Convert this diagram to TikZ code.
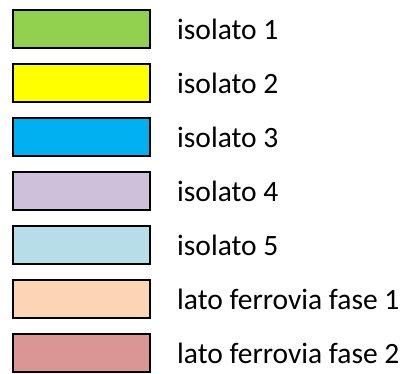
\documentclass[tikz,border=0pt]{standalone}
\usepackage{fontspec}
\setmainfont{Carlito}
\usetikzlibrary{positioning}
\definecolor{isogreen}{HTML}{92D050}
\definecolor{isoyellow}{HTML}{FFFF00}
\definecolor{isoblue}{HTML}{00B0F0}
\definecolor{isopurple}{HTML}{CCC0DA}
\definecolor{isolightblue}{HTML}{B7DEE8}
\definecolor{ferropeach}{HTML}{FCD5B4}
\definecolor{ferrorose}{HTML}{DA9694}

\begin{document}
\begin{tikzpicture}[
    x=1pt, y=1pt,
    node distance=14pt,
    swatch/.style={rectangle, draw=black, line width=2pt, minimum width=137pt, minimum height=38pt, fill=#1},
    label/.style={anchor=west, inner sep=0pt, font=\fontsize{29.5}{34}\selectfont}
]
    \useasboundingbox (0,0) rectangle (408,374);

    \node[swatch=isogreen] (s1) at (81.5,345) {};
    \node[swatch=isoyellow, below=of s1] (s2) {};
    \node[swatch=isoblue, below=of s2] (s3) {};
    \node[swatch=isopurple, below=of s3] (s4) {};
    \node[swatch=isolightblue, below=of s4] (s5) {};
    \node[swatch=ferropeach, below=of s5] (s6) {};
    \node[swatch=ferrorose, below=of s6] (s7) {};

    \node[label, right=26pt of s1.east] (t1) {isolato 1};
    \node[label, right=26pt of s2.east] (t2) {isolato 2};
    \node[label, right=26pt of s3.east] (t3) {isolato 3};
    \node[label, right=26pt of s4.east] (t4) {isolato 4};
    \node[label, right=26pt of s5.east] (t5) {isolato 5};
    \node[label, right=26pt of s6.east] (t6) {lato ferrovia fase 1};
    \node[label, right=26pt of s7.east] (t7) {lato ferrovia fase 2};
\end{tikzpicture}
\end{document}
